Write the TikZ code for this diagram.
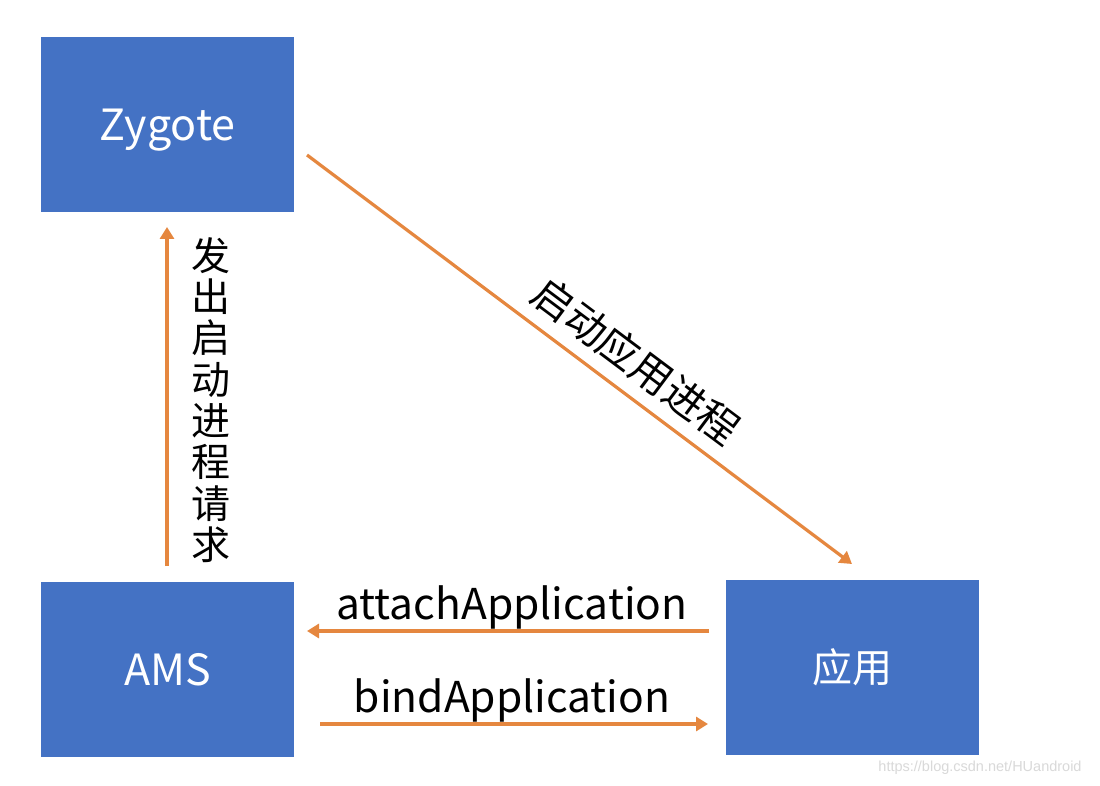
\documentclass[tikz,border=0pt]{standalone}
\usepackage{fontspec}
\setmainfont{Noto Sans CJK SC}
\newfontfamily\wmfont{Liberation Sans}
\usetikzlibrary{arrows.meta}
\definecolor{boxblue}{HTML}{4472C4}
\definecolor{arrorange}{HTML}{E5873F}
\definecolor{wmgray}{HTML}{D9D9D9}
\begin{document}
\begin{tikzpicture}[x=1pt,y=-1pt,
  box/.style={fill=boxblue, draw=none, minimum width=253pt, minimum height=175pt, inner sep=0pt, text=white, font=\fontsize{43}{46}\selectfont},
  conn/.style={draw=arrorange, line width=3.2pt, -{Triangle[width=14pt,length=12pt]}},
  lbl/.style={text=black, font=\fontsize{42.5}{46}\selectfont, inner sep=0pt}]
\useasboundingbox[fill=white] (0,0) rectangle (1100,786);
\node[box, text depth=0pt] (zyg) at (167.5,124.5) {Zygote};
\node[box] (ams) at (167.5,669.5) {AMS};
\node[box, font=\fontsize{40}{44}\selectfont] (app) at (852,667.5) {应用};
\coordinate (zs) at (307,155);
\coordinate (ae) at (852,564);
\coordinate (vs) at (167,566);
\coordinate (ve) at (167,227);
\coordinate (as) at (709,631);
\coordinate (ae2) at (307,631);
\coordinate (bs) at (320,724);
\coordinate (be) at (708,724);
\draw[conn] (vs) -- (ve);
\draw[conn] (zs) -- (ae);
\draw[conn] (as) -- (ae2);
\draw[conn] (bs) -- (be);
\node[lbl, align=center, font=\fontsize{39}{41.3}\selectfont] (vlbl) at (211,400) {发\\出\\启\\动\\进\\程\\请\\求};
\node[lbl, rotate=-36.8, font=\fontsize{41}{44}\selectfont] (dlbl) at (636,361) {启动应用进程};
\node[lbl] (alb) at (512,607) {attachApplication};
\node[lbl] (blb) at (512,700) {bindApplication};
\node[text=wmgray, font=\wmfont\fontsize{14.5}{16}\selectfont, inner sep=0pt] (wm) at (980,768) {https://blog.csdn.net/HUandroid};
\end{tikzpicture}
\end{document}
